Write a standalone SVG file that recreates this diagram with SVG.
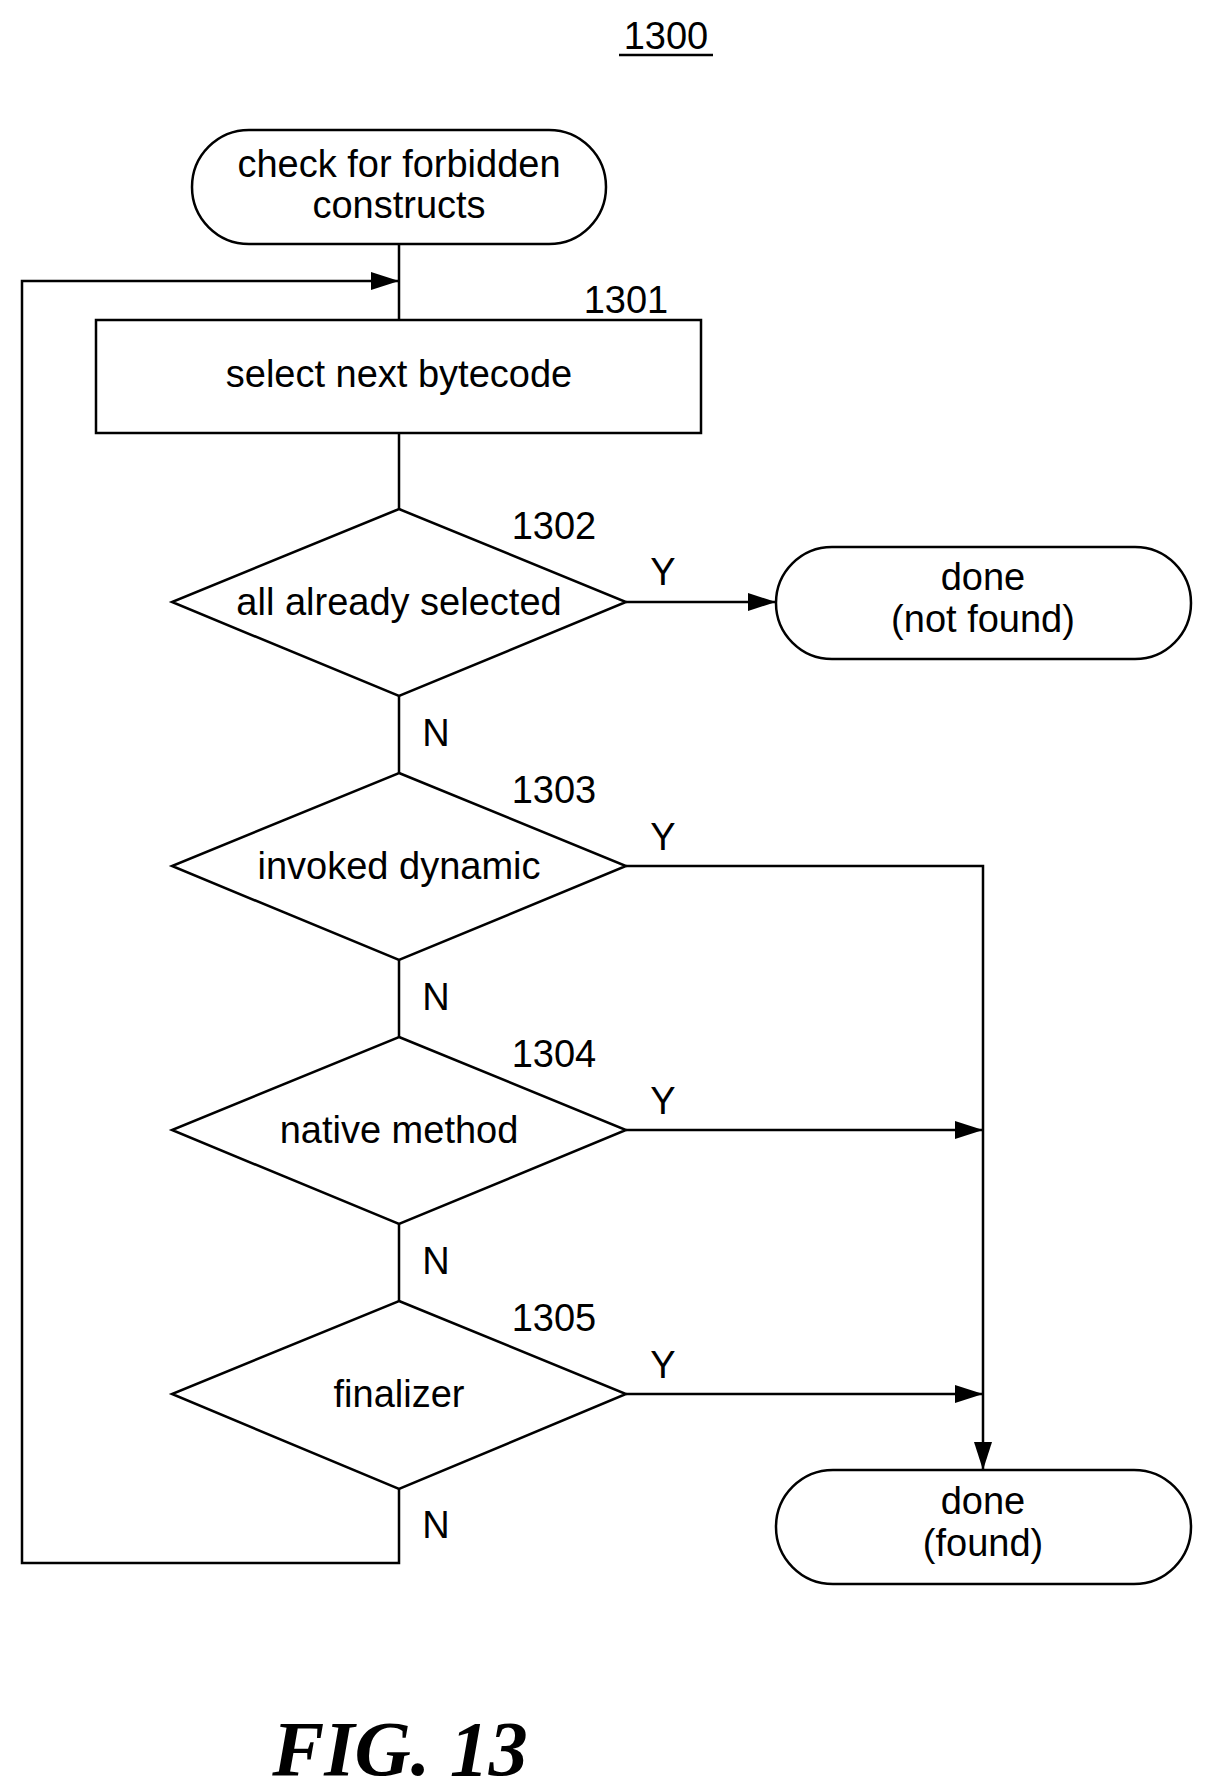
<svg xmlns="http://www.w3.org/2000/svg" width="1206" height="1790" viewBox="0 0 1206 1790">
<style>
.s{fill:#fff;stroke:#000;stroke-width:2.5}
.t{font-family:"Liberation Sans",Arial,sans-serif;font-size:38px;text-anchor:middle}
.l{fill:none;stroke:#000;stroke-width:2.5}
</style>
<defs>
<marker id="b" markerWidth="28" markerHeight="18" refX="28" refY="9" orient="auto" markerUnits="userSpaceOnUse"><path d="M0,0L28,9L0,18z"/></marker></defs>
<rect width="1206" height="1790" fill="#fff"/>
<text class="t" x="666" y="49">1300</text>
<line x1="619" y1="55" x2="713" y2="55" stroke="#000" stroke-width="2.5"/>
<g id="connectors">
<path class="l" d="M399 244V320M399 433V509M399 696V773M399 960V1037M399 1224V1301"/>
<path class="l" d="M399 1489V1563H22V281H399" marker-end="url(#b)"/>
<path class="l" d="M626 602H776" marker-end="url(#b)"/>
<path class="l" d="M626 866H983V1470" marker-end="url(#b)"/>
<path class="l" d="M626 1130H983" marker-end="url(#b)"/>
<path class="l" d="M626 1394H983" marker-end="url(#b)"/>
<g class="t"><text x="663" y="585">Y</text><text x="663" y="850">Y</text><text x="663" y="1114">Y</text><text x="663" y="1378">Y</text>
<text x="436" y="746">N</text><text x="436" y="1010">N</text><text x="436" y="1274">N</text><text x="436" y="1538">N</text></g>
</g>
<g id="start"><rect class="s" x="192" y="130" width="414" height="114" rx="57"/><text class="t" x="399" y="177">check for forbidden</text><text class="t" x="399" y="218">constructs</text></g>
<g id="n1301"><rect class="s" x="96" y="320" width="605" height="113"/><text class="t" x="399" y="387">select next bytecode</text><text class="t" x="626" y="313">1301</text></g>
<g id="n1302"><path class="s" d="M399 509L626 602L399 696L172 602Z"/><text class="t" x="399" y="615">all already selected</text><text class="t" x="554" y="539">1302</text></g>
<g id="nf"><rect class="s" x="776" y="547" width="415" height="112" rx="56"/><text class="t" x="983" y="590">done</text><text class="t" x="983" y="632">(not found)</text></g>
<g id="n1303"><path class="s" d="M399 773L626 866L399 960L172 866Z"/><text class="t" x="399" y="879">invoked dynamic</text><text class="t" x="554" y="803">1303</text></g>
<g id="n1304"><path class="s" d="M399 1037L626 1130L399 1224L172 1130Z"/><text class="t" x="399" y="1143">native method</text><text class="t" x="554" y="1067">1304</text></g>
<g id="n1305"><path class="s" d="M399 1301L626 1394L399 1489L172 1394Z"/><text class="t" x="399" y="1407">finalizer</text><text class="t" x="554" y="1331">1305</text></g>
<g id="found"><rect class="s" x="776" y="1470" width="415" height="114" rx="57"/><text class="t" x="983" y="1514">done</text><text class="t" x="983" y="1556">(found)</text></g>
<text x="400" y="1775" font-family="Liberation Serif,serif" font-weight="bold" font-style="italic" font-size="78" text-anchor="middle">FIG. 13</text>
</svg>
